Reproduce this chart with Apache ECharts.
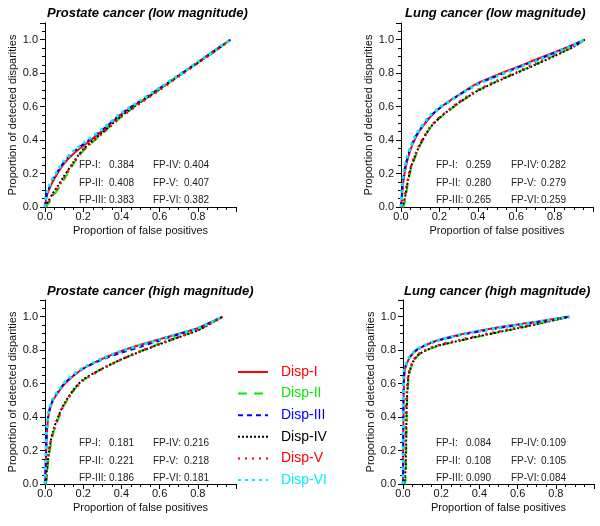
<!DOCTYPE html>
<html>
<head>
<meta charset="utf-8">
<title>FP curves</title>
<script src="https://cdn.jsdelivr.net/npm/echarts@6/dist/echarts.min.js"></script>
<style>
  html, body { margin: 0; padding: 0; background: #fff; }
</style>
</head>
<body>
<div id="main" style="width:600px;height:526px;"></div>
<script type="text/javascript">
// series names and styles shared by all four panels
var dispNames = ['Disp-I', 'Disp-II', 'Disp-III', 'Disp-IV', 'Disp-V', 'Disp-VI'];
var fpLabels = ['FP-I:', 'FP-II:', 'FP-III:', 'FP-IV:', 'FP-V:', 'FP-VI:'];
var panelTitles = ['Prostate cancer (low magnitude)', 'Lung cancer (low magnitude)',
                   'Prostate cancer (high magnitude)', 'Lung cancer (high magnitude)'];

// FP values per panel (I..VI)
var fpProstateLow = ['0.384', '0.408', '0.383', '0.404', '0.407', '0.382'];
var fpLungLow = ['0.259', '0.280', '0.265', '0.282', '0.279', '0.259'];
var fpProstateHigh = ['0.181', '0.221', '0.186', '0.216', '0.218', '0.181'];
var fpLungHigh = ['0.084', '0.108', '0.090', '0.109', '0.105', '0.084'];

// prostate, low magnitude
var plX = [0, 0.005, 0.01, 0.02, 0.04, 0.07, 0.1, 0.15, 0.2, 0.3, 0.4, 0.5, 0.6, 0.7, 0.8, 0.9, 0.97];
var plI = [0, 0.04, 0.07, 0.10, 0.15, 0.21, 0.26, 0.32, 0.365, 0.455, 0.555, 0.63, 0.705, 0.785, 0.865, 0.945, 1.0];
var plII = [0, 0, 0.01, 0.025, 0.06, 0.11, 0.165, 0.26, 0.335, 0.44, 0.54, 0.625, 0.705, 0.785, 0.862, 0.94, 1.0];
var plIII = [0, 0.05, 0.08, 0.11, 0.16, 0.22, 0.27, 0.33, 0.375, 0.46, 0.56, 0.635, 0.71, 0.787, 0.865, 0.945, 1.0];
var plIV = [0, 0.005, 0.02, 0.04, 0.08, 0.13, 0.185, 0.27, 0.345, 0.445, 0.545, 0.627, 0.705, 0.785, 0.862, 0.94, 1.0];
var plV = [0, 0, 0.015, 0.03, 0.07, 0.12, 0.175, 0.265, 0.34, 0.44, 0.54, 0.622, 0.7, 0.78, 0.86, 0.94, 1.0];
var plVI = [0, 0.06, 0.09, 0.12, 0.17, 0.225, 0.275, 0.335, 0.38, 0.465, 0.562, 0.637, 0.712, 0.788, 0.866, 0.945, 1.0];

// lung, low magnitude
var llX = [0, 0.005, 0.01, 0.02, 0.03, 0.05, 0.075, 0.1, 0.15, 0.2, 0.3, 0.4, 0.5, 0.6, 0.7, 0.8, 0.9, 0.957];
var llI = [0, 0.06, 0.13, 0.21, 0.265, 0.345, 0.41, 0.46, 0.535, 0.59, 0.67, 0.74, 0.79, 0.835, 0.88, 0.925, 0.972, 1.0];
var llII = [0, 0, 0, 0.03, 0.1, 0.22, 0.3, 0.37, 0.47, 0.53, 0.62, 0.695, 0.752, 0.802, 0.853, 0.906, 0.96, 1.0];
var llIII = [0, 0.08, 0.15, 0.23, 0.28, 0.355, 0.42, 0.465, 0.54, 0.59, 0.667, 0.735, 0.783, 0.83, 0.875, 0.922, 0.97, 1.0];
var llIV = [0, 0, 0.01, 0.05, 0.12, 0.23, 0.31, 0.375, 0.472, 0.533, 0.622, 0.695, 0.75, 0.8, 0.85, 0.903, 0.958, 1.0];
var llV = [0, 0, 0.02, 0.07, 0.13, 0.235, 0.315, 0.38, 0.475, 0.535, 0.625, 0.7, 0.755, 0.805, 0.857, 0.91, 0.962, 1.0];
var llVI = [0, 0.10, 0.165, 0.24, 0.29, 0.36, 0.425, 0.47, 0.545, 0.593, 0.668, 0.735, 0.782, 0.828, 0.872, 0.92, 0.968, 1.0];

// prostate, high magnitude
var phX = [0, 0.003, 0.006, 0.01, 0.02, 0.04, 0.07, 0.1, 0.15, 0.2, 0.3, 0.4, 0.5, 0.6, 0.7, 0.8, 0.93];
var phI = [0, 0.08, 0.18, 0.31, 0.42, 0.495, 0.55, 0.595, 0.648, 0.69, 0.748, 0.795, 0.832, 0.866, 0.898, 0.932, 1.0];
var phII = [0, 0, 0, 0.06, 0.16, 0.29, 0.39, 0.47, 0.56, 0.62, 0.69, 0.745, 0.795, 0.84, 0.88, 0.92, 1.0];
var phIII = [0, 0.1, 0.2, 0.33, 0.43, 0.5, 0.555, 0.6, 0.65, 0.69, 0.745, 0.785, 0.82, 0.858, 0.895, 0.93, 1.0];
var phIV = [0, 0, 0.02, 0.08, 0.19, 0.31, 0.405, 0.48, 0.565, 0.625, 0.69, 0.745, 0.792, 0.835, 0.877, 0.918, 1.0];
var phV = [0, 0, 0.03, 0.1, 0.2, 0.3, 0.4, 0.475, 0.56, 0.62, 0.688, 0.745, 0.793, 0.838, 0.88, 0.921, 1.0];
var phVI = [0, 0.14, 0.24, 0.35, 0.44, 0.505, 0.56, 0.605, 0.655, 0.695, 0.75, 0.795, 0.83, 0.864, 0.897, 0.931, 1.0];

// lung, high magnitude
var lhX = [0, 0.003, 0.006, 0.01, 0.015, 0.02, 0.03, 0.05, 0.075, 0.1, 0.15, 0.2, 0.3, 0.4, 0.5, 0.6, 0.7, 0.87];
var lhI = [0, 0.5, 0.63, 0.68, 0.705, 0.72, 0.745, 0.778, 0.803, 0.82, 0.846, 0.865, 0.894, 0.917, 0.937, 0.954, 0.97, 1.0];
var lhII = [0, 0, 0, 0, 0.05, 0.45, 0.64, 0.72, 0.765, 0.785, 0.812, 0.83, 0.857, 0.882, 0.907, 0.93, 0.955, 1.0];
var lhIII = [0, 0.6, 0.66, 0.69, 0.71, 0.725, 0.75, 0.78, 0.805, 0.82, 0.845, 0.862, 0.89, 0.912, 0.932, 0.95, 0.967, 1.0];
var lhIV = [0, 0, 0, 0.02, 0.15, 0.5, 0.655, 0.725, 0.768, 0.787, 0.814, 0.832, 0.858, 0.884, 0.908, 0.931, 0.956, 1.0];
var lhV = [0, 0, 0.05, 0.2, 0.4, 0.55, 0.665, 0.73, 0.772, 0.79, 0.817, 0.835, 0.862, 0.888, 0.912, 0.935, 0.958, 1.0];
var lhVI = [0, 0.64, 0.68, 0.7, 0.715, 0.73, 0.752, 0.782, 0.806, 0.822, 0.847, 0.864, 0.892, 0.914, 0.934, 0.951, 0.968, 1.0];

var panels = [
    { x: plX, ys: [plI, plII, plIII, plIV, plV, plVI], fp: fpProstateLow },
    { x: llX, ys: [llI, llII, llIII, llIV, llV, llVI], fp: fpLungLow },
    { x: phX, ys: [phI, phII, phIII, phIV, phV, phVI], fp: fpProstateHigh },
    { x: lhX, ys: [lhI, lhII, lhIII, lhIV, lhV, lhVI], fp: fpLungHigh }
];

var FONT = '"Liberation Sans", Arial, Helvetica, sans-serif';
var colors = ['#ff0000', '#00ee00', '#0000ff', '#000000', '#ff0000', '#00eeff'];
var dashes = ['solid', [9, 7], [5, 4], [2, 2], [2, 5], [3, 4]];
var widths = [2, 2, 2, 2, 2.5, 3];

var grids = [
    { left: 45, top: 23, width: 191, height: 184 },
    { left: 401, top: 23, width: 192, height: 184 },
    { left: 45, top: 300, width: 191, height: 184 },
    { left: 403, top: 300, width: 191, height: 184 }
];
var titlePos = [[47, 7], [405, 7], [47, 285], [404, 285]];
var fpCols = [[79, 109, 153, 184], [436, 466, 511, 541], [79, 109, 153, 184], [436, 466, 511, 541]];
var fpRows = [[165, 183, 200], [165, 183, 200], [443, 461, 478], [443, 461, 478]];

var axisText = { color: '#111', fontSize: 11, fontFamily: FONT };

var xAxes = [], yAxes = [], series = [], titles = [], graphics = [];
panels.forEach(function (p, g) {
    titles.push({
        text: panelTitles[g], left: titlePos[g][0], top: titlePos[g][1], padding: 0,
        textStyle: { fontSize: 13, fontWeight: 'bold', fontStyle: 'italic', color: '#000', fontFamily: FONT }
    });
    xAxes.push({
        type: 'value', gridIndex: g, min: 0, max: 1, interval: 0.2,
        name: 'Proportion of false positives', nameLocation: 'middle', nameGap: 18,
        nameTextStyle: axisText,
        axisLine: { lineStyle: { color: '#000', width: 1 } },
        axisTick: { length: 5, lineStyle: { color: '#000' } },
        minorTick: { show: true, splitNumber: 4, length: 3, lineStyle: { color: '#000' } },
        axisLabel: Object.assign({ margin: 4, showMaxLabel: false, formatter: function (v) { return v.toFixed(1); } }, axisText),
        splitLine: { show: false }
    });
    yAxes.push({
        type: 'value', gridIndex: g, min: 0, max: 1.1, interval: 0.2,
        name: 'Proportion of detected disparities', nameLocation: 'middle', nameGap: 24,
        nameTextStyle: axisText,
        axisLine: { lineStyle: { color: '#000', width: 1 } },
        axisTick: { length: 5, lineStyle: { color: '#000' } },
        minorTick: { show: true, splitNumber: 4, length: 3, lineStyle: { color: '#000' } },
        axisLabel: Object.assign({ margin: 7, showMaxLabel: false, padding: [0, 0, 5, 0], formatter: function (v) { return v.toFixed(1); } }, axisText),
        splitLine: { show: false }
    });
    p.ys.forEach(function (ys, k) {
        series.push({
            type: 'line', name: dispNames[k], xAxisIndex: g, yAxisIndex: g,
            data: p.x.map(function (xv, i) { return [xv, ys[i]]; }),
            symbol: 'none', smooth: 0.2, silent: true,
            lineStyle: { color: colors[k], type: dashes[k], width: widths[k] },
            itemStyle: { color: colors[k] }
        });
    });
    // FP annotations
    for (var r = 0; r < 3; r++) {
        [[0, r], [2, r + 3]].forEach(function (c) {
            graphics.push({ type: 'text', x: fpCols[g][c[0]], y: fpRows[g][r],
                style: { text: fpLabels[c[1]], font: '10px ' + FONT, fill: '#222', verticalAlign: 'middle' } });
            graphics.push({ type: 'text', x: fpCols[g][c[0] + 1], y: fpRows[g][r],
                style: { text: p.fp[c[1]], font: '10px ' + FONT, fill: '#222', verticalAlign: 'middle' } });
        });
    }
});

var myChart = echarts.init(document.getElementById('main'));
myChart.setOption({
    animation: false,
    backgroundColor: '#fff',
    title: titles,
    grid: grids,
    xAxis: xAxes,
    yAxis: yAxes,
    legend: {
        orient: 'vertical', left: 232, top: 360,
        itemWidth: 30, itemHeight: 12, itemGap: 7.6,
        selectedMode: false,
        itemStyle: { opacity: 0 },
        data: dispNames.map(function (n, k) {
            return { name: n, textStyle: { color: colors[k] } };
        }),
        textStyle: { fontSize: 14, fontFamily: FONT, padding: [0, 0, 0, 8] }
    },
    graphic: graphics,
    series: series
});
</script>
</body>
</html>
